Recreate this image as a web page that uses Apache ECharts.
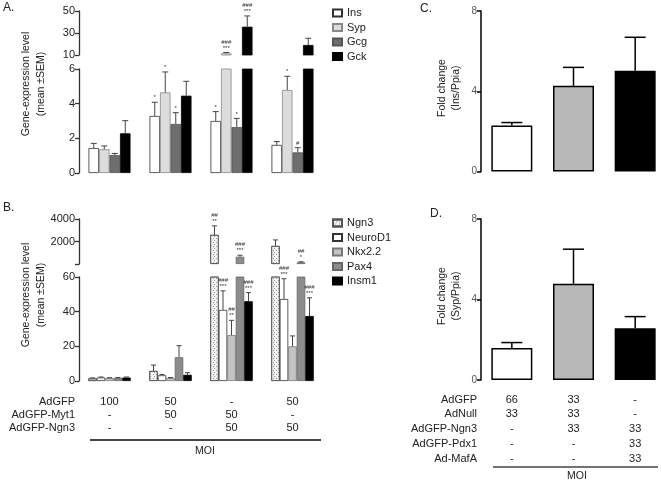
<!DOCTYPE html>
<html><head><meta charset="utf-8">
<script src="https://cdn.jsdelivr.net/npm/echarts@6/dist/echarts.min.js"></script>
<style>html,body{margin:0;padding:0;background:#fff}#c{width:661px;height:481px}</style>
</head><body><div id="c"></div><script>
// ---------- DATA ----------
const groupCats = ['1','2','3','4'];
// Panel A
const geneA = ['Ins','Syp','Gcg','Gck'];
const insMean = [1.44, 3.29, 3.0, 1.62], insTop = [1.71, 4.08, 3.54, 1.81];
const sypMean = [1.37, 4.65, 11.5, 4.79], sypTop = [1.56, 5.83, 12.3, 5.58];
const gcgMean = [1.04, 2.83, 2.65, 1.19], gcgTop = [1.13, 3.48, 3.15, 1.46];
const gckMean = [2.29, 4.46, 35.7, 19.1], gckTop = [3.02, 5.29, 45.5, 25.2];
const insSig = ['', '*', '*', ''];
const sypSig = ['', '*', '###\n***', '*'];
const gcgSig = ['', '*', '*', '#'];
const gckSig = ['', '', '###\n***', ''];
const aUpperTicks = [10, 50, 20];   // min, max, interval
const aLowerTicks = [0, 6, 2];
// Panel B
const geneB = ['Ngn3','NeuroD1','Nkx2.2','Pax4','Insm1'];
const ngn3Mean = [1.5, 5.8, 2590, 1607], ngn3Top = [1.8, 9.2, 3390, 2140];
const neurod1Mean = [2.0, 3.3, 41, 47.3], neurod1Top = [2.3, 3.8, 52, 59];
const nkx22Mean = [1.7, 1.7, 26.5, 20], nkx22Top = [1.9, 2.0, 35, 26];
const pax4Mean = [1.8, 13.7, 650, 150], pax4Top = [2.0, 20.4, 780, 200];
const insm1Mean = [2.0, 3.6, 46, 37.5], insm1Top = [2.3, 4.8, 51, 48];
const ngn3Sig = ['', '', '##\n**', ''];
const neurod1Sig = ['', '', '###\n***', '###\n***'];
const nkx22Sig = ['', '', '##\n**', ''];
const pax4Sig = ['', '', '###\n***', '##\n*'];
const insm1Sig = ['', '', '###\n***', '###\n***'];
const bUpperTicks = [0, 4000, 2000];
const bLowerTicks = [0, 60, 20];
const tableBRows = ['AdGFP', 'AdGFP-Myt1', 'AdGFP-Ngn3'];
const tableBAdGFP = ['100', '50', '-', '50'];
const tableBMyt1 = ['-', '50', '50', '-'];
const tableBNgn3 = ['-', '-', '50', '50'];
// Panels C, D
const cdCats = ['1','2','3'];
const insPpiaMean = [2.29, 4.27, 5.02], insPpiaTop = [2.44, 5.19, 6.69];
const sypPpiaMean = [1.59, 4.78, 2.57], sypPpiaTop = [1.86, 6.5, 3.15];
const cdTicks = [0, 8, 4];
const tableDRows = ['AdGFP', 'AdNull', 'AdGFP-Ngn3', 'AdGFP-Pdx1', 'Ad-MafA'];
const tableDAdGFP = ['66', '33', '-'];
const tableDAdNull = ['33', '33', '-'];
const tableDNgn3 = ['-', '33', '33'];
const tableDPdx1 = ['-', '-', '33'];
const tableDMafA = ['-', '-', '33'];

// ---------- LAYOUT / STYLE ----------
const FONT = 'Liberation Sans, Arial, Helvetica, sans-serif';
const gridsL = [
  {left:79, top:11, width:244, height:44},    // A upper
  {left:79, top:69, width:244, height:104},   // A lower
  {left:79, top:219, width:244, height:45},   // B upper
  {left:79, top:277, width:244, height:104},  // B lower
  {left:481, top:11, width:185, height:160.5},// C
  {left:481, top:219, width:185, height:161}  // D
];
const bBottom = 277 + 104, dBottom = 219 + 161;
const bRowOff = [20.7, 34, 47.3];
const dRowOff = [20, 34.3, 49.3, 64.3, 79];

const styleA = [
  {color:'#ffffff', borderColor:'#333', borderWidth:0.8},
  {color:'#dcdcdc', borderColor:'#888', borderWidth:0.8},
  {color:'#6e6e6e', borderColor:'#555', borderWidth:0.8},
  {color:'#000000', borderColor:'#000', borderWidth:0.8}
];
const styleB = [
  {color:'#f2f2f2', borderColor:'#555', borderWidth:0.8,
   decal:{symbol:'rect', symbolSize:1, dashArrayX:[[1,2],[0,1.5,1,0.5]], dashArrayY:[1,1], color:'#9a9a9a'}},
  {color:'#ffffff', borderColor:'#333', borderWidth:0.8},
  {color:'#c4c4c4', borderColor:'#777', borderWidth:0.8},
  {color:'#8c8c8c', borderColor:'#666', borderWidth:0.8},
  {color:'#000000', borderColor:'#000', borderWidth:0.8}
];
const cdColors = ['#ffffff', '#b8b8b8', '#000000'];

function errSeries(xi, yi, means, tops, sigs, idx, n, bw, lo, hi, o) {
  return {
    type:'custom', xAxisIndex:xi, yAxisIndex:yi, z:5, silent:true,
    data: means.map((m, i) => [i, m, tops[i]]),
    encode:{x:0, y:[1,2]},
    renderItem(params, api) {
      const m = api.value(1), t = api.value(2);
      if (!(m > lo && m < hi)) return null;
      const c = api.value(0);
      const p0 = api.coord([c, m]);
      const p1 = api.coord([c, Math.min(t, hi)]);
      const x = p0[0] + (idx - (n - 1) / 2) * bw;
      const cw = o.cap;
      const ch = [
        {type:'line', shape:{x1:x, y1:p0[1], x2:x, y2:p1[1]}, style:{stroke:o.color, lineWidth:o.lw}},
        {type:'line', shape:{x1:x - cw/2, y1:p1[1], x2:x + cw/2, y2:p1[1]}, style:{stroke:o.color, lineWidth:o.lw}}
      ];
      const s = sigs ? sigs[params.dataIndex] : '';
      if (s) ch.push({type:'text', x:x, y:p1[1] - 1.5,
        style:{text:s, align:'center', verticalAlign:'bottom', fontSize:6, lineHeight:6, fill:'#333', fontFamily:FONT}});
      return {type:'group', children:ch};
    }
  };
}

const series = [];
// Panel A
const aMeans = [insMean, sypMean, gcgMean, gckMean];
const aTops = [insTop, sypTop, gcgTop, gckTop];
const aSigs = [insSig, sypSig, gcgSig, gckSig];
const bwA = 10.5;
geneA.forEach((g, k) => {
  series.push({type:'bar', name:g, xAxisIndex:0, yAxisIndex:0, barWidth:bwA, barGap:'0%', itemStyle:styleA[k],
    data: aMeans[k].map(v => v > aLowerTicks[1] ? v : '-'), clip:true, silent:true});
  series.push({type:'bar', name:g, xAxisIndex:1, yAxisIndex:1, barWidth:bwA, barGap:'0%', itemStyle:styleA[k],
    data: aMeans[k], clip:true, silent:true});
});
geneA.forEach((g, k) => {
  series.push(errSeries(0, 0, aMeans[k], aTops[k], aSigs[k], k, 4, bwA, aLowerTicks[1], aUpperTicks[1], {cap:6, color:'#444', lw:1}));
  series.push(errSeries(1, 1, aMeans[k], aTops[k], aSigs[k], k, 4, bwA, 0, aLowerTicks[1], {cap:6, color:'#444', lw:1}));
});
// Panel B
const bMeans = [ngn3Mean, neurod1Mean, nkx22Mean, pax4Mean, insm1Mean];
const bTops = [ngn3Top, neurod1Top, nkx22Top, pax4Top, insm1Top];
const bSigs = [ngn3Sig, neurod1Sig, nkx22Sig, pax4Sig, insm1Sig];
const bwB = 8.5;
geneB.forEach((g, k) => {
  series.push({type:'bar', name:g, xAxisIndex:2, yAxisIndex:2, barWidth:bwB, barGap:'0%', itemStyle:styleB[k],
    data: bMeans[k].map(v => v > bLowerTicks[1] ? v : '-'), clip:true, silent:true});
  series.push({type:'bar', name:g, xAxisIndex:3, yAxisIndex:3, barWidth:bwB, barGap:'0%', itemStyle:styleB[k],
    data: bMeans[k], clip:true, silent:true});
});
geneB.forEach((g, k) => {
  series.push(errSeries(2, 2, bMeans[k], bTops[k], bSigs[k], k, 5, bwB, bLowerTicks[1], bUpperTicks[1], {cap:5, color:'#444', lw:1}));
  series.push(errSeries(3, 3, bMeans[k], bTops[k], bSigs[k], k, 5, bwB, 0, bLowerTicks[1], {cap:5, color:'#444', lw:1}));
});
// Panels C, D
const cdStyle = (v, i) => ({value:v, itemStyle:{color:cdColors[i], borderColor:'#000', borderWidth:1.5}});
series.push({type:'bar', xAxisIndex:4, yAxisIndex:4, barWidth:41, data: insPpiaMean.map(cdStyle), silent:true});
series.push({type:'bar', xAxisIndex:5, yAxisIndex:5, barWidth:41, data: sypPpiaMean.map(cdStyle), silent:true});
series.push(errSeries(4, 4, insPpiaMean, insPpiaTop, null, 0, 1, 0, 0, 8, {cap:21, color:'#000', lw:1.5}));
series.push(errSeries(5, 5, sypPpiaMean, sypPpiaTop, null, 0, 1, 0, 0, 8, {cap:21, color:'#000', lw:1.5}));

// ---------- AXES ----------
const grid = gridsL.map(g => Object.assign({outerBoundsMode:'none', containLabel:false}, g));
const xAxis = [];
for (let i = 0; i < 6; i++) {
  xAxis.push({type:'category', gridIndex:i, data: i < 4 ? groupCats : cdCats, show:false, boundaryGap:true});
}
function tableAxis(gi, data, off) {
  return {type:'category', gridIndex:gi, data, position:'bottom', offset:off,
    axisLine:{show:false}, axisTick:{show:false}, splitLine:{show:false},
    axisLabel:{interval:0, margin:0, verticalAlign:'middle', fontSize:11, color:'#222', fontFamily:FONT, hideOverlap:false}};
}
[tableBAdGFP, tableBMyt1, tableBNgn3].forEach((d, r) => xAxis.push(tableAxis(3, d, bRowOff[r])));
[tableDAdGFP, tableDAdNull, tableDNgn3, tableDPdx1, tableDMafA].forEach((d, r) => xAxis.push(tableAxis(5, d, dRowOff[r])));

function yAx(gi, t, o) {
  return {type:'value', gridIndex:gi, min:t[0], max:t[1], interval:t[2],
    axisLine:{show:true, lineStyle:{color:o.c, width:o.w}},
    axisTick:{show:true, length:4, lineStyle:{color:o.c, width:o.w}},
    splitLine:{show:false},
    axisLabel:{fontSize:o.fs, color:o.lc, margin:4, fontFamily:FONT, formatter:o.fmt || (v => String(v))}};
}
const abStyle = {c:'#333', w:1.3, fs:11, lc:'#222'};
const cdStyleAx = {c:'#000', w:1.5, fs:10, lc:'#555'};
const yAxis = [
  yAx(0, aUpperTicks, abStyle),
  yAx(1, aLowerTicks, abStyle),
  yAx(2, bUpperTicks, Object.assign({}, abStyle, {fmt: v => v === 0 ? '' : String(v)})),
  yAx(3, bLowerTicks, abStyle),
  yAx(4, cdTicks, cdStyleAx),
  yAx(5, cdTicks, cdStyleAx)
];

// ---------- TEXT / GRAPHIC ----------
const txt = (x, y, text, o) => ({type:'text', x, y, silent:true, rotation:o.rot || 0,
  style:Object.assign({text, fontFamily:FONT, fill:'#222', fontSize:11}, o.s || {})});
const graphic = [
  txt(3, 2, 'A.', {s:{fontSize:12}}),
  txt(3, 202, 'B.', {s:{fontSize:12}}),
  txt(420, 3, 'C.', {s:{fontSize:12}}),
  txt(430, 208, 'D.', {s:{fontSize:12}}),
  txt(33.5, 84, 'Gene-expression level\n(mean ±SEM)', {rot:Math.PI/2, s:{fontSize:10.5, lineHeight:15, align:'center', verticalAlign:'middle'}}),
  txt(33.5, 295, 'Gene-expression level\n(mean ±SEM)', {rot:Math.PI/2, s:{fontSize:10.5, lineHeight:15, align:'center', verticalAlign:'middle'}}),
  txt(449.5, 88, 'Fold change\n(Ins/Ppia)', {rot:Math.PI/2, s:{fontSize:10.5, lineHeight:14, align:'center', verticalAlign:'middle'}}),
  txt(449.5, 296, 'Fold change\n(Syp/Ppia)', {rot:Math.PI/2, s:{fontSize:10.5, lineHeight:14, align:'center', verticalAlign:'middle'}}),
  {type:'line', silent:true, shape:{x1:90, y1:440, x2:321, y2:440}, style:{stroke:'#444', lineWidth:2}},
  txt(205, 451, 'MOI', {s:{fontSize:10.5, align:'center', verticalAlign:'middle'}}),
  {type:'line', silent:true, shape:{x1:493, y1:467, x2:658, y2:467}, style:{stroke:'#444', lineWidth:1.5}},
  txt(577, 476, 'MOI', {s:{fontSize:10.5, align:'center', verticalAlign:'middle'}})
];
tableBRows.forEach((r, i) => graphic.push(txt(75, bBottom + bRowOff[i], r, {s:{align:'right', verticalAlign:'middle'}})));
tableDRows.forEach((r, i) => graphic.push(txt(477, dBottom + dRowOff[i], r, {s:{align:'right', verticalAlign:'middle'}})));

const legendBase = {orient:'vertical', icon:'rect', itemWidth:9, itemHeight:7, itemGap:3.5, padding:0,
  selectedMode:false, textStyle:{fontSize:11, color:'#222', fontFamily:FONT}};
const legend = [
  Object.assign({}, legendBase, {data:geneA, left:332, top:7.5}),
  Object.assign({}, legendBase, {data:geneB, left:332, top:217.5})
];

const chart = echarts.init(document.getElementById('c'), null, {renderer:'canvas'});
chart.setOption({animation:false, backgroundColor:'#fff', grid, xAxis, yAxis, series, legend, graphic});
</script></body></html>
